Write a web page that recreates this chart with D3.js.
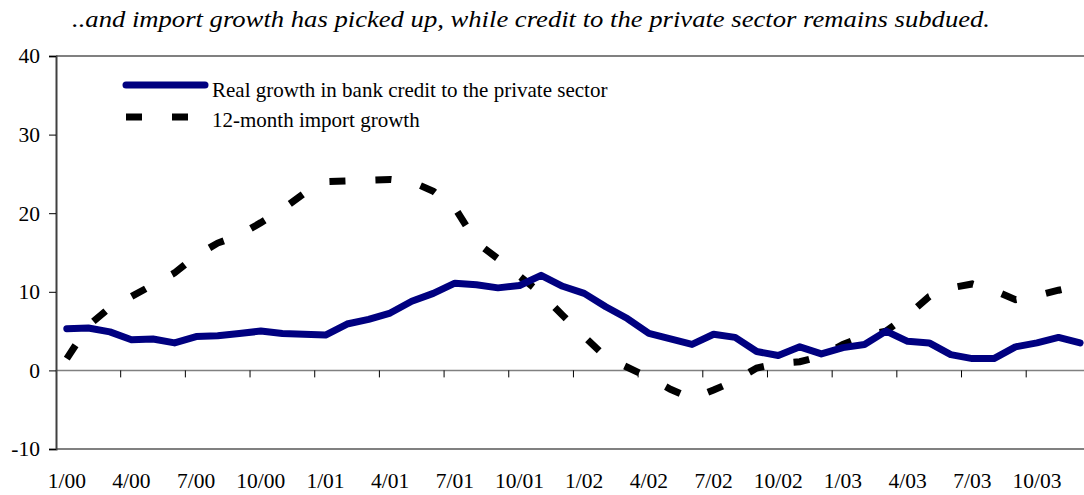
<!DOCTYPE html>
<html>
<head>
<meta charset="utf-8">
<script src="https://cdn.jsdelivr.net/npm/d3@7"></script>
<style>
  body { margin: 0; background: #fff; }
  svg text { font-family: "Liberation Serif", "Times New Roman", serif; fill: #000; }
</style>
</head>
<body>
<div class="canvas"></div>
<script>
// categories: monthly, 1/00 .. 12/03
const years = ['00', '01', '02', '03'];
const months = [];
years.forEach(y => d3.range(1, 13).forEach(m => months.push(`${m}/${y}`)));

// real growth in bank credit to the private sector
const credit = [5.3, 5.4, 4.9, 3.9, 4.0, 3.5, 4.3, 4.4, 4.7, 5.0, 4.7, 4.6,
    4.5, 5.9, 6.5, 7.3, 8.8, 9.8, 11.1, 10.9, 10.5, 10.8, 12.1, 10.7,
    9.8, 8.1, 6.6, 4.7, 4.0, 3.3, 4.6, 4.2, 2.4, 1.9, 3.0, 2.1,
    2.9, 3.3, 5.0, 3.7, 3.5, 2.0, 1.5, 1.5, 3.0, 3.5, 4.2, 3.5];

// 12-month import growth
const imports = [1.5, 5.7, 8.0, 9.4, 10.9, 12.4, 14.6, 16.2, 17.2, 18.8, 20.5, 22.5,
    24.0, 24.1, 24.2, 24.3, 24.0, 22.8, 20.7, 16.3, 14.2, 12.0, 9.8, 7.0,
    4.3, 1.7, 0.4, -0.9, -2.4, -3.6, -2.5, -1.3, 0.3, 0.9, 1.1, 1.8,
    3.3, 4.4, 5.0, 7.0, 9.4, 10.5, 11.0, 10.2, 9.0, 9.5, 10.2, 10.8];

const yTicks = [-10, 0, 10, 20, 30, 40];
const xLabels = months.filter((m, i) => i % 3 === 0);

const title = '..and import growth has picked up, while credit to the private sector remains subdued.';
const legendNames = ['Real growth in bank credit to the private sector', '12-month import growth'];

// svg
const svg = d3.select('.canvas')
    .append('svg')
    .attr('width', 1084)
    .attr('height', 495);

const plotLeft = 56, plotTop = 56, plotBottom = 449;
const step = 21.56;

const xScale = d3.scaleBand()
    .domain(months)
    .range([plotLeft, plotLeft + step * months.length])
    .padding(0);

const yScale = d3.scaleLinear()
    .domain([-10, 40])
    .range([plotBottom, plotTop]);

const cx = i => xScale(months[i]) + xScale.bandwidth() / 2;

// title
svg.append('text')
    .attr('x', 72)
    .attr('y', 27)
    .attr('font-size', 23)
    .attr('font-style', 'italic')
    .attr('textLength', 918)
    .attr('lengthAdjust', 'spacingAndGlyphs')
    .text(title);

// plot frame (top + bottom borders)
[40, -10].forEach(v => {
    svg.append('line')
        .attr('x1', plotLeft).attr('x2', xScale.range()[1])
        .attr('y1', yScale(v)).attr('y2', yScale(v))
        .attr('stroke', '#808080')
        .attr('stroke-width', 2);
});

// zero line
svg.append('line')
    .attr('x1', plotLeft).attr('x2', xScale.range()[1])
    .attr('y1', yScale(0)).attr('y2', yScale(0))
    .attr('stroke', '#808080')
    .attr('stroke-width', 1.5);

// x ticks at category boundaries every 3 months
svg.append('g')
    .selectAll('line')
    .data(months.filter((m, i) => i > 0 && i % 3 === 0))
    .join('line')
    .attr('x1', d => xScale(d)).attr('x2', d => xScale(d))
    .attr('y1', yScale(0)).attr('y2', yScale(0) + 7)
    .attr('stroke', '#000')
    .attr('stroke-width', 1);

// x labels
const xAxis = d3.axisBottom(xScale)
    .tickValues(xLabels)
    .tickSize(0)
    .tickPadding(0);
const xAxisGroup = svg.append('g')
    .attr('transform', `translate(0, 488)`)
    .call(xAxis);
xAxisGroup.select('.domain').remove();
xAxisGroup.selectAll('text')
    .attr('dy', null)
    .style('font-size', '21.5px')
    .style('font-family', '"Liberation Serif", "Times New Roman", serif');

// y axis
const yAxis = d3.axisLeft(yScale)
    .tickValues(yTicks)
    .tickFormat(d => String(d))
    .tickSize(7)
    .tickPadding(9);
const yAxisGroup = svg.append('g')
    .attr('transform', `translate(${plotLeft}, 0)`)
    .call(yAxis);
yAxisGroup.select('.domain')
    .attr('stroke', '#404040')
    .attr('stroke-width', 2);
yAxisGroup.selectAll('.tick line').attr('stroke', '#000');
yAxisGroup.selectAll('text')
    .style('font-size', '21.5px')
    .style('font-family', '"Liberation Serif", "Times New Roman", serif');

// lines
const line = d3.line()
    .x((d, i) => cx(i))
    .y(d => yScale(d));

svg.append('path')
    .datum(imports)
    .attr('d', line)
    .attr('fill', 'none')
    .attr('stroke', '#000')
    .attr('stroke-width', 7)
    .attr('stroke-dasharray', '16,30');

svg.append('path')
    .datum(credit)
    .attr('d', line)
    .attr('fill', 'none')
    .attr('stroke', '#000080')
    .attr('stroke-width', 7)
    .attr('stroke-linejoin', 'round')
    .attr('stroke-linecap', 'round');

// legend
const legend = svg.append('g');
legend.append('line')
    .attr('x1', 126).attr('x2', 205)
    .attr('y1', 85).attr('y2', 85)
    .attr('stroke', '#000080')
    .attr('stroke-width', 7)
    .attr('stroke-linecap', 'round');
legend.append('line')
    .attr('x1', 126).attr('x2', 188)
    .attr('y1', 117).attr('y2', 117)
    .attr('stroke', '#000')
    .attr('stroke-width', 7)
    .attr('stroke-dasharray', '16,30');
legend.selectAll('text')
    .data(legendNames)
    .join('text')
    .attr('x', 212)
    .attr('y', (d, i) => 96.5 + i * 30)
    .attr('font-size', 21)
    .text(d => d);
</script>
</body>
</html>
